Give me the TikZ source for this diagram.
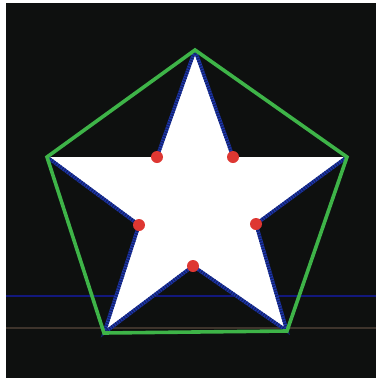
\documentclass[tikz,border=0pt]{standalone}
\usetikzlibrary{positioning}
\definecolor{bgdark}{RGB}{14,16,15}
\definecolor{pentagreen}{RGB}{62,180,72}
\definecolor{edgeblue}{RGB}{30,55,175}
\definecolor{dotred}{RGB}{222,55,50}
\definecolor{scanblue}{RGB}{18,24,125}
\definecolor{scangray}{RGB}{62,52,44}

\begin{document}
\begin{tikzpicture}[x=1pt, y=-1pt,
  pentaline/.style={draw=pentagreen, line width=3.6pt, line join=miter},
  staredge/.style={draw=edgeblue, line width=3.4pt, line join=round},
  edgedots/.style={draw=edgeblue!60!black, line width=3.4pt, dash pattern=on 1.2pt off 1.4pt},
  reddot/.style={circle, fill=dotred, minimum size=12pt, inner sep=0pt},
  scan/.style={line width=1.5pt}
]
  \useasboundingbox (0,0) rectangle (376,381);
  \fill[bgdark] (6,3) rectangle (376,378);

  % faint scan lines
  \draw[scan, scanblue] (6,296) -- (376,296);
  \draw[scan, scangray] (6,328) -- (376,328);

  % outer and inner vertices
  \coordinate (top)  at (195,50);
  \coordinate (left) at (47,157);
  \coordinate (right) at (347,157);
  \coordinate (botl) at (104,333);
  \coordinate (botr) at (287,331);
  \coordinate (il) at (157,157);
  \coordinate (ir) at (233,157);
  \coordinate (ml) at (139,225);
  \coordinate (mr) at (256,224);
  \coordinate (mb) at (193,266);

  % star
  \fill[white] (top) -- (ir) -- (right) -- (mr) -- (botr) -- (mb)
    -- (botl) -- (ml) -- (left) -- (il) -- cycle;
  \draw[staredge] (il) -- (top) -- (ir);
  \draw[staredge] (right) -- (mr) -- (botr) -- (mb) -- (botl) -- (ml) -- (left);
  \draw[edgedots] (il) -- (top) -- (ir);
  \draw[edgedots] (right) -- (mr) -- (botr) -- (mb) -- (botl) -- (ml) -- (left);

  % pentagon
  \draw[pentaline] (top) -- (right) -- (botr) -- (botl) -- (left) -- cycle;

  % inner vertex markers
  \node[reddot] (dil) at (il) {};
  \node[reddot] (dir) at (ir) {};
  \node[reddot] (dml) at (ml) {};
  \node[reddot] (dmr) at (mr) {};
  \node[reddot] (dmb) at (mb) {};
\end{tikzpicture}
\end{document}
